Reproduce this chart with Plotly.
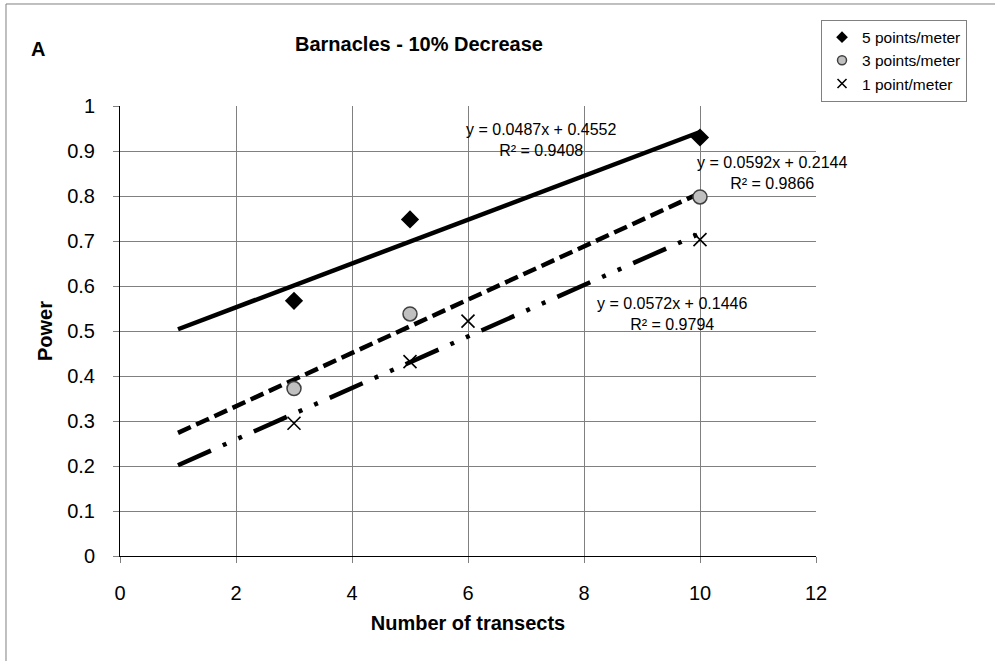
import plotly.graph_objects as go

# ---- data ----
x5 = [3, 5, 10]
y5 = [0.567, 0.748, 0.930]
x3 = [3, 5, 10]
y3 = [0.372, 0.538, 0.798]
x1 = [3, 5, 6, 10]
y1 = [0.295, 0.432, 0.522, 0.703]

series_names = ["5 points/meter", "3 points/meter", "1 point/meter"]
slopes = [0.0487, 0.0592, 0.0572]
intercepts = [0.4552, 0.2144, 0.1446]
r2 = [0.9408, 0.9866, 0.9794]
trend_x = [1, 10]
x_ticks = [0, 2, 4, 6, 8, 10, 12]

FONT = "Liberation Sans, Arial, sans-serif"

fig = go.Figure()

# trendlines (not in legend)
dashes = ["solid", "14px,6px", "36px,13px,4px,13px,4px,13px"]
for m, b, d in zip(slopes, intercepts, dashes):
    fig.add_trace(go.Scatter(
        x=trend_x, y=[m * xv + b for xv in trend_x], mode="lines",
        line=dict(color="black", width=4.5, dash=d),
        showlegend=False, hoverinfo="skip"))

marker5 = dict(symbol="diamond", color="black")
marker3 = dict(symbol="circle", color="#c0c0c0", line=dict(color="#404040", width=1.5))
marker1 = dict(symbol="x-thin-open", color="black", line=dict(color="black", width=1.6))

fig.add_trace(go.Scatter(x=x5, y=y5, mode="markers", name=series_names[0],
                         legendgroup="s5", showlegend=False, marker=dict(size=14, **marker5)))
fig.add_trace(go.Scatter(x=x3, y=y3, mode="markers", name=series_names[1],
                         legendgroup="s3", showlegend=False, marker=dict(size=14, **marker3)))
fig.add_trace(go.Scatter(x=x1, y=y1, mode="markers", name=series_names[2],
                         legendgroup="s1", showlegend=False, marker=dict(size=13, **marker1)))

# legend entries (smaller symbols, like the original legend)
for name, grp, mk in zip(series_names, ["s5", "s3", "s1"], [marker5, marker3, marker1]):
    fig.add_trace(go.Scatter(x=[None], y=[None], mode="markers", name=name,
                             legendgroup=grp, marker=dict(size=9, **mk)))

# equation labels
eq_pos = [(7.26, 0.924), (11.24, 0.851), (9.52, 0.538)]
for (ax, ay), m, b, r in zip(eq_pos, slopes, intercepts, r2):
    fig.add_annotation(x=ax, y=ay, xref="x", yref="y", showarrow=False,
                       text=f"y = {m:.4f}x + {b:.4f}<br>R² = {r:.4f}",
                       align="center", font=dict(family=FONT, size=16, color="black"))

# panel letter
fig.add_annotation(x=(29 - 120) / 696, y=(556 - 36) / 450, xref="paper", yref="paper",
                   showarrow=False, text="<b>A</b>",
                   font=dict(family=FONT, size=20, color="black"))

# outer chart border (left + top)
fig.add_shape(type="line", xref="paper", yref="paper", x0=-0.1638, x1=-0.1638,
              y0=-0.5, y1=1.2267, line=dict(color="#808080", width=1))
fig.add_shape(type="line", xref="paper", yref="paper", x0=-0.1638, x1=2,
              y0=1.2267, y1=1.2267, line=dict(color="#808080", width=1))

fig.update_layout(
    width=995, height=661,
    margin=dict(l=120, r=179, t=106, b=105),
    paper_bgcolor="white", plot_bgcolor="white",
    font=dict(family=FONT, color="black"),
    title=dict(text="<b>Barnacles - 10% Decrease</b>", xref="container", yref="container",
               x=419 / 995, y=1 - 44 / 661, xanchor="center", yanchor="middle",
               font=dict(family=FONT, size=20, color="black")),
    legend=dict(x=1.0072, y=1.192, xanchor="left", yanchor="top",
                bordercolor="#808080", borderwidth=1, bgcolor="white",
                font=dict(family=FONT, size=15.5, color="black"),
                itemwidth=30, tracegroupgap=0),
    xaxis=dict(range=[0, 12], tickvals=x_ticks, showgrid=True, gridcolor="#808080",
               gridwidth=1, zeroline=False, showline=True, linecolor="black", linewidth=1,
               ticks="outside", ticklen=6, tickcolor="#808080",
               tickfont=dict(family=FONT, size=20, color="black"), ticklabelstandoff=13,
               title=dict(text="<b>Number of transects</b>", standoff=12,
                          font=dict(family=FONT, size=20, color="black"))),
    yaxis=dict(range=[0, 1], dtick=0.1, showgrid=True, gridcolor="#808080",
               gridwidth=1, zeroline=False, showline=True, linecolor="black", linewidth=1,
               ticks="outside", ticklen=6, tickcolor="#808080",
               tickfont=dict(family=FONT, size=20, color="black"), ticklabelstandoff=14,
               title=dict(text="<b>Power</b>", standoff=9,
                          font=dict(family=FONT, size=20, color="black"))),
)

fig.write_html("out.html")
